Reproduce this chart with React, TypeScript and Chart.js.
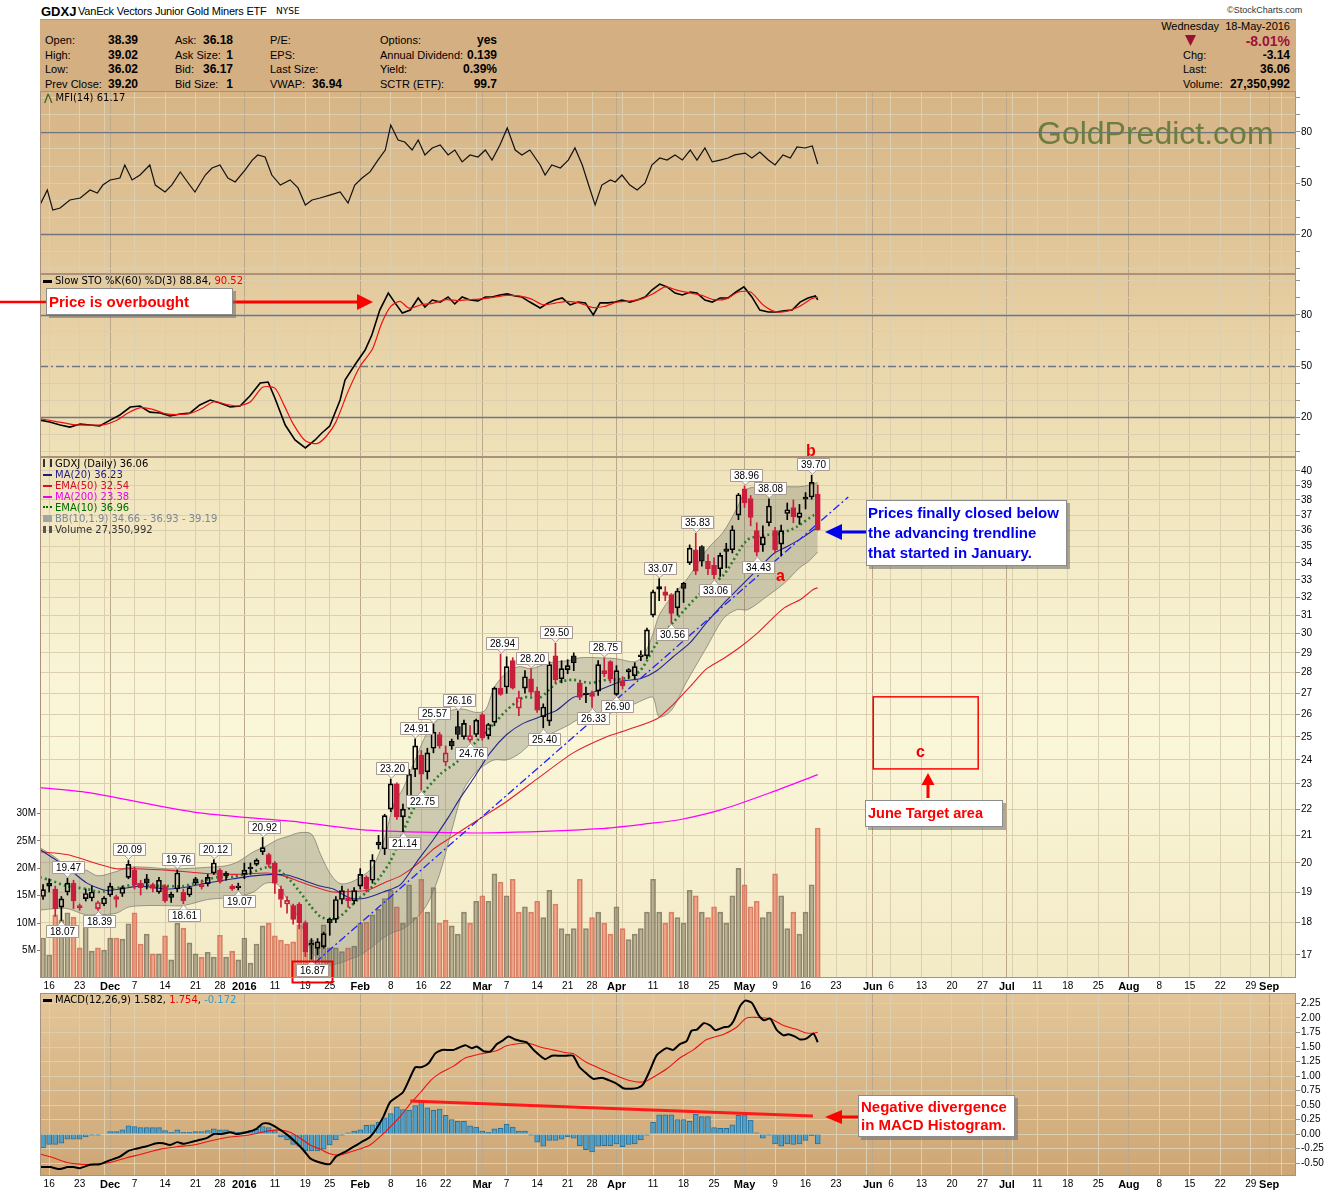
import React, { useEffect, useRef } from "react";
import { Chart, registerables } from "chart.js";

Chart.register(...registerables);

// ---------------- DATA ----------------
// trading-day index 0 = 13-Nov-2015 ... 127 = 18-May-2016
const OPEN = [18.85,19.2,19.1,18.5,19.0,19.3,18.55,18.78,18.8,18.45,18.6,18.9,18.85,18.95,19.5,19.75,19.3,19.45,19.25,19.0,19.2,18.92,19.1,19.0,18.9,19.45,19.25,19.28,19.65,19.75,19.65,19.2,19.2,19.6,19.85,19.95,20.4,20.3,20.0,19.1,18.6,18.55,18.6,18.0,17.3,17.2,17.25,18.1,18.1,18.75,18.8,18.7,19.2,19.5,19.4,20.75,20.5,22.0,23.0,21.7,22.2,23.6,24.2,23.5,24.5,25.1,23.9,24.8,25.45,25.0,24.85,25.1,26.0,25.05,25.65,27.25,27.3,28.6,26.3,27.25,27.7,27.1,25.9,25.7,28.85,27.7,28.15,28.85,27.5,27.0,27.0,27.1,28.1,28.55,26.95,27.6,28.15,27.85,28.8,28.85,31.0,32.45,32.3,32.15,31.4,32.8,34.0,34.8,35.0,34.1,33.85,33.65,34.85,34.8,37.0,38.75,38.1,36.0,35.1,36.5,36.0,35.15,37.1,37.5,36.85,38.2,38.2,38.39];
const HIGH = [19.25,19.45,19.2,18.85,19.47,19.4,18.6,19.1,19.2,18.7,18.85,19.3,18.9,19.2,20.09,19.85,19.4,19.6,19.3,19.5,19.25,19.0,19.76,19.1,19.2,19.5,19.4,19.6,20.12,19.8,19.7,19.25,19.3,20.0,20.0,20.15,20.92,20.35,20.05,19.2,18.85,18.6,18.65,18.05,17.5,17.5,17.7,18.15,18.85,19.2,19.1,19.15,19.8,19.55,20.3,21.0,21.8,23.2,23.05,22.2,23.6,24.91,24.4,24.5,25.57,25.2,24.6,24.9,26.16,25.75,25.5,25.8,26.05,25.6,27.3,28.94,28.8,28.75,27.1,28.1,28.2,27.3,26.5,28.55,29.5,28.6,28.65,29.0,27.6,27.3,27.1,28.6,28.75,28.6,28.35,27.8,28.2,28.5,29.1,30.3,32.4,33.07,32.6,32.2,32.5,32.85,35.1,35.83,35.05,34.5,34.3,34.6,35.2,36.3,38.45,38.96,38.3,36.5,36.3,38.08,36.2,36.35,37.8,38.0,37.7,38.5,39.7,39.02];
const LOW = [18.75,19.0,18.2,18.07,18.9,18.45,18.4,18.7,18.7,18.39,18.55,18.85,18.5,18.85,19.45,19.1,18.9,19.1,19.0,18.95,18.65,18.65,19.0,18.61,18.85,19.25,19.1,19.2,19.6,19.3,19.4,19.05,19.07,19.45,19.6,19.9,20.3,19.85,18.95,18.5,18.3,17.95,17.8,16.95,16.87,17.0,17.2,17.6,18.0,18.6,18.5,18.6,19.1,19.0,19.3,20.5,20.3,21.9,21.6,21.14,22.0,23.3,22.75,23.2,24.3,24.5,23.75,24.45,24.9,24.9,24.76,25.0,24.85,24.9,25.5,26.9,27.0,27.2,25.95,27.0,26.9,26.1,25.4,25.5,27.5,27.5,27.95,28.1,26.7,26.55,26.33,26.9,27.8,27.5,26.9,27.2,27.7,27.7,28.6,28.7,30.9,31.8,31.8,30.56,31.0,31.7,33.9,33.3,33.8,33.3,33.06,33.2,33.7,34.6,36.7,37.5,36.3,34.43,34.7,36.3,34.6,34.4,36.7,36.5,36.4,37.4,38.05,36.02];
const CLOSE = [19.08,19.3,18.45,18.77,19.3,18.7,18.48,18.95,19.0,18.65,18.8,19.2,18.75,19.15,19.95,19.25,19.15,19.3,19.12,19.4,18.7,18.82,19.65,18.7,19.15,19.32,19.18,19.5,20.0,19.35,19.55,19.1,19.15,19.75,19.8,20.1,20.55,19.95,19.3,18.75,18.72,18.1,18.0,17.1,17.35,17.4,17.65,18.0,18.75,19.05,18.7,19.05,19.6,19.1,20.1,20.65,21.75,23.0,21.7,22.0,23.4,24.6,23.4,24.3,25.2,24.6,24.3,24.6,25.1,25.6,25.05,25.75,24.95,25.55,27.25,26.95,28.3,27.25,26.8,27.8,27.05,26.2,26.35,28.4,27.65,28.2,28.35,28.5,26.8,26.93,26.85,28.4,27.95,27.7,28.1,27.35,28.05,28.3,28.9,30.2,32.3,32.6,32.1,31.1,32.35,32.5,34.9,33.5,34.1,33.65,33.3,34.45,34.7,36.05,38.35,37.8,36.85,34.65,35.6,37.6,34.8,36.0,37.35,36.9,37.15,38.05,39.2,36.06];
// volume in millions
const VOLUME = [7.3,4.2,11.5,10.6,11.9,11.1,5.5,9.7,4.9,5.5,5.1,7.3,7.3,7.1,9.9,11.9,6.2,8.0,4.4,4.4,7.7,3.3,10.0,9.1,6.4,4.4,3.8,4.7,3.8,7.8,3.8,4.9,3.3,7.3,2.7,6.2,9.5,10.0,7.7,6.9,6.2,6.6,9.7,8.9,6.9,6.6,9.7,5.5,5.5,4.8,5.5,5.8,10,10.2,11.5,12.5,14.5,16,13,10,17,11,18,12,16.5,10,10.5,9.5,8,12,10,14,15,14,19,17.5,15,18,12,13,12,14,11,16,13.5,9,8,9,18,9,11,12,10,8,13,9,7,8,9,12,18,12,10,12,11,10,16,15,12,11,13,12,10,15,20,17,13,14,11,12,19,15,9,12,8,12,17,27.35];

const MA20 = [[-0.5,20.48],[3.9,19.85],[7.2,19.3],[10.4,19.05],[12.6,19.1],[15.9,19.2],[20.3,19.1],[23.6,19.17],[26.8,19.3],[31.2,19.45],[34.5,19.55],[37.8,19.6],[40,19.58],[42,19.45],[45.4,19.2],[47.6,19.1],[50.3,18.8],[53,18.8],[55.8,19.0],[58.6,19.25],[61.3,20.05],[64,20.85],[66.5,21.7],[68.3,22.4],[70.5,23.2],[73.3,24.3],[76,25.1],[78.7,25.6],[81.5,25.9],[84.2,26.2],[86.9,26.8],[89.7,27.0],[92.4,27.3],[95.1,27.6],[97.9,27.7],[100.6,28.1],[103.3,28.8],[106,29.5],[108.8,30.6],[112,31.8],[114.3,32.6],[117.1,33.6],[119.9,34.6],[122,35.0],[124.7,35.6],[127,36.23]];
const EMA50 = [[-0.5,20.4],[3.9,20.3],[9.3,19.95],[12,19.8],[14.8,19.8],[20.3,19.75],[25.7,19.65],[31.2,19.6],[36.7,19.65],[39.4,19.55],[42.1,19.35],[44.9,19.15],[47.6,19.0],[50.3,19.02],[53,19.05],[55.8,19.3],[58.6,19.55],[61.3,19.95],[64,20.5],[66.7,20.9],[71.4,21.6],[76,22.3],[81.5,23.3],[86.9,24.3],[92.4,25.0],[95.7,25.3],[100.6,25.8],[103.4,26.5],[106,27.3],[108.8,28.2],[111.5,28.7],[114.3,29.3],[117,30.0],[119.2,30.7],[121.5,31.4],[124.3,31.9],[126.3,32.45],[127,32.54]];
const MA200 = [[-0.5,22.85],[7.2,22.66],[25.7,21.85],[42,21.5],[53,21.2],[66.7,21.1],[75,21.1],[91.3,21.25],[99.5,21.45],[104.5,21.6],[111.5,22.0],[119.8,22.7],[127,23.38]];
const EMA10 = [[-0.5,19.5],[1.2,19.4],[3.9,19.2],[7.2,19.1],[9.3,19.0],[11.5,19.1],[14.8,19.25],[17.5,19.22],[20.3,19.2],[23,19.2],[25.7,19.35],[28.5,19.5],[31.2,19.52],[33.9,19.65],[36.7,19.85],[38.3,19.8],[40.5,19.4],[42.1,19.0],[43.8,18.55],[45.4,18.2],[47,18.1],[48.7,18.2],[50.3,18.5],[51.9,18.8],[53.6,19.1],[55.2,19.5],[56.9,20.05],[58.6,20.9],[60.2,21.75],[61.9,22.5],[65.1,23.4],[67.8,23.9],[70.5,24.65],[73.3,25.4],[76,26.2],[78.7,26.8],[81.5,26.8],[84.2,27.5],[86.9,27.65],[89.7,27.5],[92.4,27.65],[95.1,27.7],[97.9,28.1],[100.6,29.5],[103.3,30.6],[107.7,32.2],[111.6,33.3],[115.4,35.4],[118.1,35.7],[120.8,35.8],[123.6,36.25],[126.4,37.0],[127,36.96]];
const BB_IDX = [-0.5,2,4,7,9,12,14,17,20,23,27,30,32,34.5,36.5,38.5,40,42,44,45.5,47,48.5,50,52,54,56,57.5,59,61,63,65,67,69,71,72.5,74,76,78,80,83,86,88,91,94,97,98.5,100,101,103,105.5,108.8,111.5,113.7,115.5,118.5,121.5,124,125.5,127];
const BB_UPPER = [20.55,20.2,19.85,19.75,19.55,19.7,19.85,19.85,19.8,19.8,19.85,19.9,20.05,20.4,20.6,20.85,20.95,21.1,21.05,20.3,19.65,19.3,19.3,19.5,19.85,20.9,22.2,22.8,24.0,25.2,25.85,26.2,26.25,26.1,26.2,27.3,28.0,28.3,28.2,28.5,28.6,28.75,28.75,28.7,28.55,28.9,30.0,31.0,32.0,33.0,34.8,35.9,37.4,38.75,38.8,38.9,38.9,39.0,39.19];
const BB_LOWER = [18.4,18.45,18.45,18.25,18.25,18.3,18.5,18.55,18.55,18.55,18.75,18.8,18.85,19.0,19.3,19.25,18.75,18.1,17.1,16.85,16.7,16.75,16.85,17.0,17.25,17.55,17.7,17.8,18.1,18.6,19.6,21.2,22.8,23.5,23.8,24.0,24.0,24.25,24.7,25.1,25.5,25.8,25.8,26.2,26.5,26.7,26.8,25.9,26.2,27.55,29.3,30.8,31.3,31.3,32.0,32.8,33.7,34.1,34.66];
const TRENDLINE = [[44.6,16.77],[132,38.2]];
const ZONE_IDX = [136.1, 153.3];
const ZONE_PRICE = [23.62, 26.83];

const HL_IDX = [3,4,9,14,22,23,28,32,36,44,57,59,61,62,64,68,70,75,80,82,84,90,92,94,101,103,107,110,115,117,119,126];
const HL_VAL = [18.07,19.47,18.39,20.09,19.76,18.61,20.12,19.07,20.92,16.87,23.20,21.14,24.91,22.75,25.57,26.16,24.76,28.94,28.20,25.40,29.50,26.33,28.75,26.90,33.07,30.56,35.83,33.06,38.96,34.43,38.08,39.70];
const HL_ABOVE = [0,1,0,1,1,0,1,0,1,0,1,0,1,0,1,1,0,1,1,0,1,0,1,0,1,0,1,0,1,0,1,1];

const MFI = [[-0.5,37.1],[0.7,45.9],[1.6,34.1],[2.8,35.3],[4.4,40],[6.1,41.2],[7.7,45.9],[8.9,44.1],[9.8,48.8],[11,51.8],[12.6,52.9],[13.4,60.6],[14.6,51.8],[15.9,54.7],[17.5,60.6],[18.4,48.8],[20,44.7],[21.1,48.8],[22.5,56.5],[23.8,50],[24.9,44.7],[26.6,54.7],[27.7,58.8],[29,60.6],[30.3,52.9],[31.5,50.6],[33.1,57.6],[34.3,63.5],[35.2,66.5],[36.4,65.3],[37.5,54.7],[38.9,48.8],[40.5,51.8],[41.8,47.1],[43,37.1],[44.1,40],[45.4,41.2],[47,42.9],[48.7,44.7],[50,38.2],[51.1,48.8],[52.3,52.9],[53.6,56.5],[54.9,63.5],[56.1,69.4],[57,84.1],[58.2,75.3],[59.3,74.1],[60.5,69.4],[61.5,75.3],[62.6,66.5],[63.8,70.6],[65.1,72.4],[66.4,66.5],[67.5,69.4],[68.7,62.4],[70,66.5],[71.3,65.3],[72.5,69.4],[73.6,63.5],[74.9,72.4],[76.1,82.4],[77.4,69.4],[78.5,66.5],[79.8,69.4],[81.5,60.6],[82.3,54.7],[83.4,60.6],[84.8,58.8],[86.1,63.5],[87.2,70.6],[88.4,60.6],[89.7,45.9],[90.5,37.1],[91.6,48.8],[93,51.8],[93.8,50.6],[94.9,54.7],[96.2,48.8],[97.4,45.9],[98.7,50],[99.8,60.6],[101.1,64.7],[102.3,63.5],[103.6,66.5],[104.8,63.5],[106.1,69.4],[107.2,63.5],[108.5,70.6],[109.7,62.4],[111,63.5],[112.3,64.7],[113.4,66.5],[115.1,67.6],[116.2,64.7],[117.5,68.2],[118.9,63.5],[120,60.6],[121.3,66.5],[122.5,64.7],[123.6,71.2],[124.9,70.6],[126.1,71.8],[127,61.17]];
const STO_K = [[-0.5,18.2],[1.1,17.1],[2.8,15.3],[4.4,14.1],[6.1,15.9],[7.7,15.3],[9.3,14.7],[11,18.2],[12.6,21.2],[14.3,25.9],[15.9,26.5],[17.5,22.9],[19.2,22.4],[20.8,20.6],[22.5,21.8],[24.1,22.4],[25.7,27.1],[27.4,30],[29,28.2],[30.7,25.9],[32.3,26.5],[33.9,32.4],[35.6,40],[36.9,40.6],[38,31.2],[39.7,15.3],[41.3,6.5],[43,1.8],[44.6,6.5],[45.7,10.6],[47,14.7],[48.7,30],[49.5,41.8],[51.1,50.6],[52.8,59.4],[53.9,68.2],[55.2,82.9],[56.6,92.9],[57.7,87.1],[58.9,81.2],[60.2,82.9],[61.5,90],[62.6,84.7],[63.8,88.8],[65.1,87.6],[66.4,90.6],[67.5,86.5],[68.7,90.6],[70,88.8],[71.3,88.2],[72.5,90.6],[73.6,90.6],[74.9,91.8],[76.1,92.4],[77.4,91.2],[78.5,90.6],[79.8,87.6],[81.5,84.1],[82.8,87.1],[83.9,88.8],[85.1,90],[86.4,85.9],[87.7,87.6],[88.9,87.1],[90.2,80],[91.3,87.1],[92.6,87.1],[93.8,87.6],[94.9,88.8],[96.2,87.6],[97.4,88.8],[98.7,90.6],[99.8,94.7],[101.1,98.2],[102.3,96.5],[103.6,92.9],[104.8,91.8],[106.1,93.5],[107.2,92.9],[108.5,88.8],[109.7,87.6],[111,90],[112.3,90],[113.6,93.5],[114.9,96.5],[116.2,90.6],[117.5,82.9],[118.9,81.8],[120.2,81.8],[121.5,82.4],[122.8,82.9],[124.1,87.6],[125.4,90],[126.6,91.2],[127,88.84]];
const STO_D = [[-0.5,19],[2,17.5],[5,15.5],[8,15.3],[10,15.5],[12,18],[14,22.5],[16,25.5],[18,24.5],[20,22],[22,21.5],[24,22],[26,25],[28,29],[30,27.5],[32,26.5],[34,29],[36,37.5],[38,37],[39.5,27],[41,16],[43,6],[45,4.5],[46.5,9],[48,17],[50,35],[52,50],[54,60],[55.5,75],[57,85],[58.5,88],[60,84],[62,86],[64,87],[66,89],[68,88.5],[70,89],[72,89.5],[74,90.5],[76,91.5],[78,91.2],[80,89.5],[82,86],[84,87],[86,88],[88,87],[90,84.5],[92,85],[94,87.5],[96,88.2],[98,89.3],[100,92.5],[102,96.5],[104,94.5],[106,93],[108,91.5],[110,89],[112,89.5],[114,93.5],[116,93.5],[118,86],[120,82],[122,82.3],[124,85],[126,89.5],[127,90.52]];

const MACD_LINE = [[-0.4,-0.57],[1.2,-0.57],[2.3,-0.6],[3,-0.6],[4,-0.57],[5,-0.57],[6,-0.59],[7.7,-0.53],[9.3,-0.52],[11,-0.45],[12.6,-0.39],[14,-0.29],[15.4,-0.25],[17,-0.21],[18.6,-0.16],[19.7,-0.16],[20.8,-0.19],[22,-0.14],[23,-0.17],[24.6,-0.13],[25.7,-0.1],[26.8,-0.07],[28,0],[29.3,0],[30.7,0.03],[31.7,0],[33.4,0.03],[35,0.09],[36,0.18],[37,0.18],[38.3,0.11],[40,-0.01],[41.6,-0.16],[42.7,-0.28],[43.8,-0.42],[45.4,-0.49],[47,-0.52],[48,-0.39],[49.8,-0.29],[51.4,-0.19],[52.5,-0.12],[53.6,-0.05],[54.7,0.1],[55.8,0.3],[56.9,0.55],[59,0.72],[61,1.15],[62,1.15],[63.2,1.22],[64.3,1.39],[65.4,1.45],[67.3,1.45],[69.2,1.53],[70.3,1.48],[71.1,1.51],[72.2,1.43],[73.3,1.42],[74.4,1.55],[75.2,1.6],[76.3,1.68],[77.4,1.63],[78.5,1.6],[79.3,1.58],[80.6,1.43],[82.3,1.29],[83.4,1.35],[84.8,1.35],[85.8,1.35],[86.9,1.35],[87.9,1.16],[89,1.05],[90.2,0.95],[91.6,0.97],[92.7,0.93],[94,0.87],[95.1,0.79],[96.5,0.78],[97.6,0.8],[98.4,0.86],[99.5,1.1],[100.6,1.36],[102.2,1.48],[103.3,1.45],[104.4,1.55],[105.5,1.6],[106.3,1.78],[107.2,1.8],[108.3,1.91],[109.4,1.87],[110.2,1.79],[111.6,1.84],[112.4,1.85],[113.2,1.95],[114.3,2.21],[115.1,2.3],[116.2,2.26],[117.3,2.05],[118.2,1.96],[119.2,1.99],[120.3,1.79],[121.4,1.7],[122.2,1.72],[123.3,1.68],[124.1,1.63],[125.2,1.65],[126.3,1.73],[127,1.582]];
const MACD_SIGNAL = [[-0.4,-0.35],[1.7,-0.41],[3.9,-0.49],[6,-0.52],[8.3,-0.52],[11,-0.49],[13.7,-0.41],[16.4,-0.34],[19.2,-0.26],[21.9,-0.22],[24.6,-0.19],[27.4,-0.12],[30.1,-0.06],[32.8,-0.03],[35,0.01],[36.7,0.05],[38.9,0.07],[40.5,0.03],[42.1,-0.07],[43.8,-0.19],[45.4,-0.26],[47,-0.34],[48.7,-0.36],[50.3,-0.31],[51.9,-0.26],[53.6,-0.19],[55.2,-0.05],[56.9,0.12],[58.6,0.31],[60.2,0.52],[61.9,0.72],[63.6,0.93],[65.1,1.05],[67.3,1.17],[69.2,1.31],[71.6,1.38],[74.2,1.43],[76,1.52],[78.2,1.56],[79.8,1.56],[81.5,1.5],[83.6,1.45],[85.8,1.4],[86.9,1.39],[89,1.24],[91.9,1.1],[94.6,0.98],[96.7,0.91],[98.6,0.9],[99.9,0.97],[102.2,1.12],[104.4,1.31],[106.6,1.45],[108.8,1.63],[111.6,1.72],[113.7,1.84],[115.3,2.0],[117,2.01],[119.2,1.99],[121.4,1.87],[123.6,1.8],[125.2,1.74],[126.3,1.74],[127,1.754]];
const MACD_HIST = [-0.24,-0.18,-0.18,-0.16,-0.09,-0.09,-0.09,-0.05,-0.02,-0.02,0.0,0.04,0.04,0.07,0.14,0.13,0.11,0.11,0.11,0.11,0.06,0.03,0.07,0.03,0.03,0.04,0.04,0.06,0.09,0.07,0.07,0.04,0.03,0.04,0.06,0.09,0.13,0.11,0.06,-0.05,-0.1,-0.18,-0.21,-0.29,-0.29,-0.29,-0.26,-0.19,-0.1,-0.02,0.02,0.05,0.07,0.15,0.16,0.2,0.28,0.35,0.47,0.42,0.41,0.49,0.56,0.45,0.41,0.43,0.32,0.25,0.22,0.22,0.14,0.12,0.05,0.03,0.09,0.1,0.17,0.12,0.05,0.05,-0.02,-0.14,-0.21,-0.11,-0.11,-0.09,-0.05,-0.07,-0.2,-0.27,-0.31,-0.21,-0.2,-0.2,-0.17,-0.22,-0.18,-0.17,-0.1,-0.02,0.2,0.33,0.33,0.33,0.25,0.25,0.22,0.34,0.3,0.3,0.11,0.1,0.1,0.16,0.32,0.33,0.24,0.02,-0.07,-0.02,-0.17,-0.21,-0.17,-0.18,-0.17,-0.11,-0.03,-0.17];
const DIVERGENCE = [[60.2,0.57],[126.2,0.31]];

// axes
const GRID_IDX = [1,6,10,11,15,20,25,29,33,38,43,47,52,57,62,66,71,72,76,81,86,90,94,95,100,105,110,115,120,125,130,135,136,139,144,149,154,158,159,163,168,173,178,183,188,193,198,201,203];
const MONTH_IDX = [11,33,52,72,94,115,136,158,178,201];
const XLAB_IDX = [1,6,11,15,20,25,29,33,38,43,47,52,57,62,66,72,76,81,86,90,94,100,105,110,115,120,125,130,136,139,144,149,154,158,163,168,173,178,183,188,193,198,201];
const XLAB_TXT = ["16","23","Dec","7","14","21","28","2016","11","19","25","Feb","8","16","22","Mar","7","14","21","28","Apr","11","18","25","May","9","16","23","Jun","6","13","20","27","Jul","11","18","25","Aug","8","15","22","29","Sep"];
const PRICE_TICKS = [17,18,19,20,21,22,23,24,25,26,27,28,29,30,31,32,33,34,35,36,37,38,39,40];
const VOL_TICKS = [5,10,15,20,25,30];
const OSC_TICKS = [0,10,20,30,40,50,60,70,80,90,100];
const OSC_LABELS = [20,50,80];
const MACD_TICKS = [-0.5,-0.25,0,0.25,0.5,0.75,1,1.25,1.5,1.75,2,2.25];

// ---------------- STYLE ----------------
const FONT = '"Liberation Sans", Arial, Helvetica, sans-serif';
const VFONT = '"DejaVu Sans", Verdana, sans-serif';
const X_MIN = -0.5;
const X_MAX = 205.4;
const UP = "#000000";
const DN = "#c81e3c";
const GRID = "#dccfb0";
const FRAME = "#a8927e";

const pts = (a: number[][]) => a.map((p) => ({ x: p[0], y: p[1] }));

function xAxis(show: boolean, h: number): any {
  const isMonth = (c: any) => c && c.tick && MONTH_IDX.includes(c.tick.value);
  return {
    type: "linear",
    min: X_MIN,
    max: X_MAX,
    offset: false,
    afterBuildTicks: (s: any) => { s.ticks = GRID_IDX.map((v) => ({ value: v })); },
    afterFit: (s: any) => { s.height = h; s.paddingLeft = 0; s.paddingRight = 0; },
    grid: { offset: false, drawTicks: false, lineWidth: 1, color: (c: any) => (isMonth(c) ? "#bba78a" : GRID) },
    border: { display: false },
    ticks: show
      ? {
          autoSkip: false, maxRotation: 0, minRotation: 0, padding: 2, color: "#000",
          callback: (v: number) => { const k = XLAB_IDX.indexOf(v); return k >= 0 ? XLAB_TXT[k] : ""; },
          font: (c: any) => ({ family: FONT, size: isMonth(c) ? 11 : 10, weight: isMonth(c) ? "bold" : "normal" }),
        }
      : { display: false },
  };
}

function rightAxis(extra: any): any {
  return {
    position: "right",
    afterFit: (s: any) => { s.width = 44; s.paddingTop = 0; s.paddingBottom = 0; },
    grid: { color: GRID, tickColor: "#a08c78", tickLength: 4, drawTicks: true },
    border: { display: false },
    ...extra,
  };
}

const framePlugin = {
  id: "frame",
  afterDraw(chart: any) {
    const { ctx, chartArea: a } = chart;
    ctx.save();
    ctx.strokeStyle = FRAME;
    ctx.lineWidth = 1;
    ctx.strokeRect(a.left + 0.5, a.top + 0.5, a.right - a.left - 1, a.bottom - a.top - 1);
    ctx.restore();
  },
};

function hLines(lines: { v: number; dash?: number[] }[]) {
  return {
    id: "hlines",
    beforeDatasetsDraw(chart: any) {
      const { ctx, chartArea: a } = chart;
      const ys = chart.scales.y;
      ctx.save();
      ctx.strokeStyle = "#6f7682";
      ctx.lineWidth = 1.3;
      lines.forEach((l) => {
        const y = Math.round(ys.getPixelForValue(l.v)) + 0.5;
        ctx.setLineDash(l.dash || []);
        ctx.beginPath();
        ctx.moveTo(a.left, y);
        ctx.lineTo(a.right, y);
        ctx.stroke();
      });
      ctx.restore();
    },
  };
}

const hiLoPlugin = {
  id: "hilo",
  afterDatasetsDraw(chart: any) {
    const { ctx } = chart;
    const xs = chart.scales.x;
    const ys = chart.scales.y;
    ctx.save();
    // target zone rectangle
    const zx0 = xs.getPixelForValue(ZONE_IDX[0]);
    const zx1 = xs.getPixelForValue(ZONE_IDX[1]);
    const zy0 = ys.getPixelForValue(ZONE_PRICE[1]);
    const zy1 = ys.getPixelForValue(ZONE_PRICE[0]);
    ctx.strokeStyle = "#ff0000";
    ctx.lineWidth = 1.5;
    ctx.strokeRect(zx0, zy0, zx1 - zx0, zy1 - zy0);

    ctx.font = `10px ${FONT}`;
    ctx.textAlign = "center";
    ctx.textBaseline = "middle";
    HL_IDX.forEach((iv, k) => {
      const px = Math.round(xs.getPixelForValue(iv)) + 0.5;
      const py = ys.getPixelForValue(HL_VAL[k]);
      const txt = HL_VAL[k].toFixed(2);
      const w = Math.ceil(ctx.measureText(txt).width) + 6;
      const h = 12;
      const above = HL_ABOVE[k] === 1;
      const bx = Math.round(px - w / 2) + 0.5;
      const by = above ? Math.round(py - 5 - h) + 0.5 : Math.round(py + 5) + 0.5;
      ctx.fillStyle = "#ffffff";
      ctx.strokeStyle = "#a89a90";
      ctx.lineWidth = 1;
      ctx.beginPath();
      ctx.rect(bx, by, w, h);
      ctx.fill();
      ctx.stroke();
      const edge = above ? by + h : by;
      const tip = above ? py - 1 : py + 1;
      ctx.beginPath();
      ctx.moveTo(px - 4, edge);
      ctx.lineTo(px, tip);
      ctx.lineTo(px + 4, edge);
      ctx.closePath();
      ctx.fill();
      ctx.beginPath();
      ctx.moveTo(px - 4, edge);
      ctx.lineTo(px, tip);
      ctx.lineTo(px + 4, edge);
      ctx.stroke();
      ctx.fillStyle = "#000";
      ctx.fillText(txt, bx + w / 2, by + h / 2 + 0.5);
      if (HL_VAL[k] === 16.87) {
        ctx.strokeStyle = "#ee0000";
        ctx.lineWidth = 2;
        ctx.strokeRect(bx - 4, by - 3, w + 8, h + 9);
      }
    });
    ctx.restore();
  },
};

const baseOptions = (padLeft: number): any => ({
  responsive: false,
  animation: false,
  events: [],
  devicePixelRatio: 1,
  layout: { padding: { left: padLeft, right: 0, top: 0, bottom: 0 } },
  plugins: { legend: { display: false }, tooltip: { enabled: false } },
});

function oscConfig(sets: any[], lines: any[]): any {
  return {
    type: "line",
    data: { datasets: sets },
    options: {
      ...baseOptions(40),
      scales: {
        x: xAxis(false, 0),
        y: rightAxis({
          min: -3.5, max: 104.1,
          afterBuildTicks: (s: any) => { s.ticks = OSC_TICKS.map((v) => ({ value: v })); },
          ticks: { padding: 1, color: "#000", font: { family: FONT, size: 10 }, callback: (v: number) => (OSC_LABELS.includes(v) ? String(v) : "") },
        }),
      },
    },
    plugins: [hLines(lines), framePlugin],
  };
}

function priceConfig(): any {
  const idx = CLOSE.map((_, i) => i);
  const up = (i: number) => i === 0 || CLOSE[i] >= CLOSE[i - 1];
  const col = (i: number) => (up(i) ? UP : DN);
  const lineDs = (data: number[][], color: string, width: number, extra: any = {}) => ({
    type: "line", data: pts(data), borderColor: color, borderWidth: width, pointRadius: 0, tension: 0.25, fill: false, yAxisID: "y", ...extra,
  });
  return {
    type: "bar",
    data: {
      datasets: [
        {
          type: "bar", yAxisID: "yv", order: 30, grouped: false, barThickness: 5, borderWidth: 1,
          data: idx.map((i) => ({ x: i, y: VOLUME[i] })),
          backgroundColor: idx.map((i) => (up(i) ? "rgba(140,130,105,0.55)" : "rgba(230,110,85,0.55)")),
          borderColor: idx.map((i) => (up(i) ? "rgba(110,100,80,0.75)" : "rgba(205,95,70,0.75)")),
        },
        lineDs(BB_IDX.map((x, k) => [x, BB_UPPER[k]]), "rgba(120,120,108,0.7)", 1, { order: 25, tension: 0.3 }),
        lineDs(BB_IDX.map((x, k) => [x, BB_LOWER[k]]), "rgba(120,120,108,0.7)", 1, { order: 24, tension: 0.3, fill: "-1", backgroundColor: "rgba(105,110,95,0.3)" }),
        lineDs(MA200, "#ff00ff", 1.2, { order: 20 }),
        lineDs(EMA50, "#e0202c", 1.1, { order: 19 }),
        lineDs(MA20, "#262690", 1.1, { order: 18 }),
        lineDs(EMA10, "#2a7a2a", 2.6, { order: 17, borderDash: [2, 3] }),
        lineDs(TRENDLINE, "#2020ff", 1.3, { order: 16, tension: 0, borderDash: [8, 3, 2, 3] }),
        {
          type: "bar", yAxisID: "y", order: 3, grouped: false, barThickness: 1, borderWidth: 0,
          data: idx.map((i) => ({ x: i, y: [Math.max(OPEN[i], CLOSE[i]), HIGH[i]] })),
          backgroundColor: idx.map(col),
        },
        {
          type: "bar", yAxisID: "y", order: 3, grouped: false, barThickness: 1, borderWidth: 0,
          data: idx.map((i) => ({ x: i, y: [LOW[i], Math.min(OPEN[i], CLOSE[i])] })),
          backgroundColor: idx.map(col),
        },
        {
          type: "bar", yAxisID: "y", order: 1, grouped: false, barThickness: 5, borderWidth: 1, borderSkipped: false,
          data: idx.map((i) => ({ x: i, y: [OPEN[i], CLOSE[i]] })),
          backgroundColor: idx.map((i) => (CLOSE[i] >= OPEN[i] ? "rgba(0,0,0,0)" : up(i) ? "#2a2a2a" : DN)),
          borderColor: idx.map(col),
        },
      ],
    },
    options: {
      ...baseOptions(0),
      scales: {
        x: xAxis(true, 20),
        y: rightAxis({
          type: "logarithmic", min: 16.32, max: 41.0,
          afterBuildTicks: (s: any) => { s.ticks = PRICE_TICKS.map((v) => ({ value: v })); },
          ticks: { padding: 1, color: "#000", font: { family: FONT, size: 10 }, callback: (v: number) => String(v) },
        }),
        yv: {
          type: "linear", position: "left", min: 0, max: 95,
          afterBuildTicks: (s: any) => { s.ticks = VOL_TICKS.map((v) => ({ value: v })); },
          afterFit: (s: any) => { s.width = 40; s.paddingTop = 0; s.paddingBottom = 0; },
          grid: { drawOnChartArea: false, tickColor: "#8a7a6a", tickLength: 3 },
          border: { display: false },
          ticks: { padding: 1, color: "#000", font: { family: FONT, size: 10 }, callback: (v: number) => `${v}M` },
        },
      },
    },
    plugins: [hiLoPlugin, framePlugin],
  };
}

function macdConfig(): any {
  const idx = MACD_HIST.map((_, i) => i);
  return {
    type: "bar",
    data: {
      datasets: [
        {
          type: "bar", order: 10, grouped: false, barThickness: 5, borderWidth: 1,
          data: idx.map((i) => ({ x: i, y: MACD_HIST[i] })),
          backgroundColor: "#519fc7", borderColor: "#2c6f95",
        },
        { type: "line", order: 3, data: pts(MACD_SIGNAL), borderColor: "#ee1111", borderWidth: 1.1, pointRadius: 0, tension: 0.25 },
        { type: "line", order: 2, data: pts(MACD_LINE), borderColor: "#000", borderWidth: 2, pointRadius: 0, tension: 0.2 },
        { type: "line", order: 1, data: pts(DIVERGENCE), borderColor: "#ff1a1a", borderWidth: 3, pointRadius: 0, tension: 0 },
      ],
    },
    options: {
      ...baseOptions(40),
      scales: {
        x: xAxis(true, 16),
        y: rightAxis({
          min: -0.724, max: 2.431,
          afterBuildTicks: (s: any) => { s.ticks = MACD_TICKS.map((v) => ({ value: v })); },
          ticks: { padding: 1, color: "#000", font: { family: FONT, size: 10 }, callback: (v: number) => v.toFixed(2) },
        }),
      },
    },
    plugins: [framePlugin],
  };
}

// ---------------- UI helpers ----------------
const abs = (l: number, t: number, extra: any = {}): any => ({ position: "absolute", left: l, top: t, whiteSpace: "nowrap", ...extra });

function Txt(props: { l: number; t: number; s?: any; children: any }) {
  return <div style={abs(props.l, props.t, props.s)}>{props.children}</div>;
}

const boxStyle = (l: number, t: number, w: number, h: number): any => ({
  position: "absolute", left: l, top: t, width: w, height: h, background: "#fff",
  border: "1px solid #8c8c8c", boxShadow: "3px 3px 0 rgba(110,110,110,0.55)", boxSizing: "border-box",
  fontFamily: FONT, fontWeight: "bold", fontSize: 15, whiteSpace: "nowrap",
});

export default function App() {
  const mfiRef = useRef<HTMLCanvasElement>(null);
  const stoRef = useRef<HTMLCanvasElement>(null);
  const priceRef = useRef<HTMLCanvasElement>(null);
  const macdRef = useRef<HTMLCanvasElement>(null);

  useEffect(() => {
    Chart.defaults.font.family = FONT;
    const charts: Chart[] = [];
    charts.push(
      new Chart(
        mfiRef.current as HTMLCanvasElement,
        oscConfig(
          [{ data: pts(MFI), borderColor: "#111", borderWidth: 1.2, pointRadius: 0, tension: 0 }],
          [{ v: 80 }, { v: 20 }]
        )
      )
    );
    charts.push(
      new Chart(
        stoRef.current as HTMLCanvasElement,
        oscConfig(
          [
            { data: pts(STO_D), borderColor: "#ee1111", borderWidth: 1.2, pointRadius: 0, tension: 0.25 },
            { data: pts(STO_K), borderColor: "#000", borderWidth: 1.6, pointRadius: 0, tension: 0 },
          ],
          [{ v: 80 }, { v: 50, dash: [8, 3, 2, 3] }, { v: 20 }]
        )
      )
    );
    charts.push(new Chart(priceRef.current as HTMLCanvasElement, priceConfig()));
    charts.push(new Chart(macdRef.current as HTMLCanvasElement, macdConfig()));
    return () => charts.forEach((c) => c.destroy());
  }, []);

  const hdr = { fontFamily: FONT, fontSize: 11, color: "#000", lineHeight: "13px" };
  const val = { fontFamily: FONT, fontSize: 12, fontWeight: "bold", color: "#000", lineHeight: "13px" };
  const leg = { fontFamily: VFONT, fontSize: 10, lineHeight: "12px" };
  const rows = [34, 49, 63, 78];

  return (
    <div style={{ position: "absolute", left: 0, top: 0, width: 1340, height: 1192, background: "#fff", overflow: "hidden" }}>
      {/* backgrounds */}
      <div style={{ position: "absolute", left: 40, top: 19, width: 1256, height: 72, background: "#d4af82", borderTop: "1px solid #b89670", boxSizing: "border-box" }} />
      <div style={{ position: "absolute", left: 40, top: 91, width: 1256, height: 887, background: "linear-gradient(to bottom, #d6b486 0px, #e3c99c 183px, #efe2b9 366px, #f9f4d5 580px, #faf6d8 650px, #f3eac6 887px)" }} />
      <div style={{ position: "absolute", left: 40, top: 993, width: 1256, height: 183, background: "linear-gradient(to bottom, #e2c699 0px, #cea676 183px)" }} />

      {/* title */}
      <Txt l={41} t={4} s={{ fontFamily: FONT, fontSize: 13, fontWeight: "bold" }}>GDXJ</Txt>
      <Txt l={78} t={5} s={{ fontFamily: FONT, fontSize: 11, letterSpacing: -0.2 }}>VanEck Vectors Junior Gold Miners ETF</Txt>
      <Txt l={276} t={6} s={{ fontFamily: VFONT, fontSize: 9 }}>NYSE</Txt>
      <Txt l={1227} t={5} s={{ fontFamily: FONT, fontSize: 9, color: "#333" }}>©StockCharts.com</Txt>

      {/* header info */}
      {["Open:", "High:", "Low:", "Prev Close:"].map((t, k) => <Txt key={"a" + k} l={45} t={rows[k]} s={hdr}>{t}</Txt>)}
      {["38.39", "39.02", "36.02", "39.20"].map((t, k) => <Txt key={"b" + k} l={98} t={rows[k]} s={{ ...val, width: 40, textAlign: "right" }}>{t}</Txt>)}
      {["Ask:", "Ask Size:", "Bid:", "Bid Size:"].map((t, k) => <Txt key={"c" + k} l={175} t={rows[k]} s={hdr}>{t}</Txt>)}
      {["36.18", "1", "36.17", "1"].map((t, k) => <Txt key={"d" + k} l={193} t={rows[k]} s={{ ...val, width: 40, textAlign: "right" }}>{t}</Txt>)}
      {["P/E:", "EPS:", "Last Size:", "VWAP:"].map((t, k) => <Txt key={"e" + k} l={270} t={rows[k]} s={hdr}>{t}</Txt>)}
      <Txt l={302} t={rows[3]} s={{ ...val, width: 40, textAlign: "right" }}>36.94</Txt>
      {["Options:", "Annual Dividend:", "Yield:", "SCTR (ETF):"].map((t, k) => <Txt key={"f" + k} l={380} t={rows[k]} s={hdr}>{t}</Txt>)}
      {["yes", "0.139", "0.39%", "99.7"].map((t, k) => <Txt key={"g" + k} l={447} t={rows[k]} s={{ ...val, width: 50, textAlign: "right" }}>{t}</Txt>)}

      <Txt l={1090} t={20} s={{ ...hdr, width: 200, textAlign: "right" }}>Wednesday&nbsp; 18-May-2016</Txt>
      <svg style={{ position: "absolute", left: 1185, top: 35 }} width={12} height={12}>
        <polygon points="0,0 11,0 5.5,11" fill="#9b1030" />
      </svg>
      <Txt l={1190} t={33} s={{ fontFamily: FONT, fontSize: 14, fontWeight: "bold", color: "#a0103a", width: 100, textAlign: "right" }}>-8.01%</Txt>
      {["Chg:", "Last:", "Volume:"].map((t, k) => <Txt key={"h" + k} l={1183} t={rows[k + 1]} s={hdr}>{t}</Txt>)}
      {["-3.14", "36.06", "27,350,992"].map((t, k) => <Txt key={"i" + k} l={1190} t={rows[k + 1]} s={{ ...val, width: 100, textAlign: "right" }}>{t}</Txt>)}

      {/* canvases */}
      <canvas ref={mfiRef} width={1340} height={183} style={{ position: "absolute", left: 0, top: 91 }} />
      <canvas ref={stoRef} width={1340} height={183} style={{ position: "absolute", left: 0, top: 274 }} />
      <canvas ref={priceRef} width={1340} height={541} style={{ position: "absolute", left: 0, top: 457 }} />
      <canvas ref={macdRef} width={1340} height={199} style={{ position: "absolute", left: 0, top: 993 }} />

      {/* panel legends */}
      <Txt l={44} t={92} s={leg}><span style={{ color: "#3a6a2a", fontWeight: "bold" }}>⋀</span> MFI(14) 61.17</Txt>
      <Txt l={43} t={275} s={leg}><span style={{ display: "inline-block", width: 9, height: 3, background: "#000", verticalAlign: "middle", marginRight: 3 }} />Slow STO %K(60) %D(3) 88.84, <span style={{ color: "#e00" }}>90.52</span></Txt>
      <Txt l={43} t={458} s={leg}>
        <div><span style={{ display: "inline-block", width: 9, height: 8, borderLeft: "2px solid #333", borderRight: "2px solid #333", boxSizing: "border-box", marginRight: 3 }} />GDXJ (Daily) 36.06</div>
        <div style={{ color: "#1a1a8a", marginTop: -1 }}><span style={{ display: "inline-block", width: 9, height: 2, background: "#1a1a8a", verticalAlign: "middle", marginRight: 3 }} />MA(20) 36.23</div>
        <div style={{ color: "#d0102c", marginTop: -1 }}><span style={{ display: "inline-block", width: 9, height: 2, background: "#d0102c", verticalAlign: "middle", marginRight: 3 }} />EMA(50) 32.54</div>
        <div style={{ color: "#ee00ee", marginTop: -1 }}><span style={{ display: "inline-block", width: 9, height: 2, background: "#ee00ee", verticalAlign: "middle", marginRight: 3 }} />MA(200) 23.38</div>
        <div style={{ color: "#006a00", marginTop: -1 }}><span style={{ display: "inline-block", width: 9, height: 2, borderTop: "2px dotted #006a00", verticalAlign: "middle", marginRight: 3 }} />EMA(10) 36.96</div>
        <div style={{ color: "#7c8696", marginTop: -1 }}><span style={{ display: "inline-block", width: 9, height: 7, background: "#a0a6a6", marginRight: 3 }} />BB(10,1.9) 34.66 - 36.93 - 39.19</div>
        <div style={{ color: "#333", marginTop: -1 }}><span style={{ display: "inline-block", width: 9, height: 7, borderLeft: "3px solid #555", borderRight: "3px solid #555", boxSizing: "border-box", marginRight: 3 }} />Volume 27,350,992</div>
      </Txt>
      <Txt l={43} t={994} s={leg}><span style={{ display: "inline-block", width: 9, height: 3, background: "#000", verticalAlign: "middle", marginRight: 3 }} />MACD(12,26,9) 1.582, <span style={{ color: "#e00" }}>1.754</span>, <span style={{ color: "#3399cc" }}>-0.172</span></Txt>

      {/* watermark */}
      <Txt l={1037} t={117} s={{ fontFamily: FONT, fontSize: 32, color: "#6b7d3f", lineHeight: "32px" }}>GoldPredict.com</Txt>

      {/* annotation lines & arrows */}
      <svg style={{ position: "absolute", left: 0, top: 0 }} width={1340} height={1192}>
        <line x1={0} y1={302} x2={46} y2={302} stroke="#ff0000" strokeWidth={2.5} />
        <line x1={232} y1={302} x2={358} y2={302} stroke="#ff0000" strokeWidth={3} />
        <polygon points="357,294 373,302 357,310" fill="#ff0000" />
        <rect x={842} y={530.5} width={24} height={3} fill="#0000ee" />
        <polygon points="825,532 842,524 842,540" fill="#0000ee" />
        <rect x={926.5} y={784} width={3} height={14} fill="#ff0000" />
        <polygon points="928,773 921.5,785 934.5,785" fill="#ff0000" />
        <rect x={842} y={1115.5} width={16} height={3} fill="#ff0000" />
        <polygon points="825,1117 842,1110 842,1124" fill="#ff0000" />
      </svg>

      <div style={boxStyle(46, 288, 187, 27)}>
        <div style={{ color: "#ff0000", position: "absolute", left: 2, top: 4, lineHeight: "17px" }}>Price is overbought</div>
      </div>
      <div style={boxStyle(866, 500, 201, 66)}>
        <div style={{ color: "#0000ee", position: "absolute", left: 1, top: 2, lineHeight: "20px" }}>
          <div>Prices finally closed below</div>
          <div>the advancing trendline</div>
          <div>that started in January.</div>
        </div>
      </div>
      <div style={boxStyle(865, 800, 138, 27)}>
        <div style={{ color: "#ff0000", position: "absolute", left: 2, top: 4, lineHeight: "17px", fontSize: 14.5 }}>June Target area</div>
      </div>
      <div style={boxStyle(858, 1095, 157, 42)}>
        <div style={{ color: "#ff0000", position: "absolute", left: 2, top: 2, lineHeight: "18px" }}>
          <div>Negative divergence</div>
          <div>in MACD Histogram.</div>
        </div>
      </div>
      <Txt l={806} t={442} s={{ fontFamily: FONT, fontWeight: "bold", fontSize: 16, color: "#ee0000" }}>b</Txt>
      <Txt l={776} t={567} s={{ fontFamily: FONT, fontWeight: "bold", fontSize: 16, color: "#ee0000" }}>a</Txt>
      <Txt l={916} t={743} s={{ fontFamily: FONT, fontWeight: "bold", fontSize: 16, color: "#ee0000" }}>c</Txt>
    </div>
  );
}
